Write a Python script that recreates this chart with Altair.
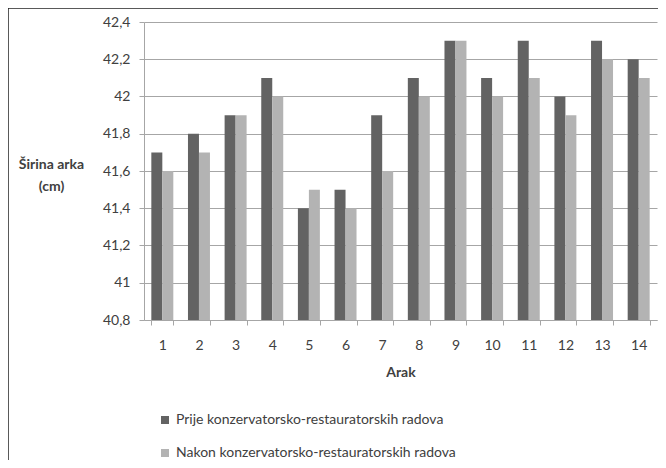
import altair as alt
import pandas as pd

categories = [str(i) for i in range(1, 15)]
prije = [41.7, 41.8, 41.9, 42.1, 41.4, 41.5, 41.9, 42.1, 42.3, 42.1, 42.3, 42.0, 42.3, 42.2]
nakon = [41.6, 41.7, 41.9, 42.0, 41.5, 41.4, 41.6, 42.0, 42.3, 42.0, 42.1, 41.9, 42.2, 42.1]
series = ["Prije konzervatorsko-restauratorskih radova",
          "Nakon konzervatorsko-restauratorskih radova"]
y_ticks = [40.8, 41.0, 41.2, 41.4, 41.6, 41.8, 42.0, 42.2, 42.4]

rows = []
for c, a, b in zip(categories, prije, nakon):
    rows.append({"Arak": c, "Serija": series[0], "v": a})
    rows.append({"Arak": c, "Serija": series[1], "v": b})
df = pd.DataFrame(rows)

FONT = "Lato"
GRID = "#a6a6a6"
TXT = "#404040"

bars = alt.Chart(df).mark_bar().encode(
    x=alt.X("Arak:N", sort=categories,
            scale=alt.Scale(paddingInner=0.4, paddingOuter=0.2),
            axis=alt.Axis(title="Arak", labelAngle=0, tickBand="extent",
                          tickSize=5, labelPadding=13, titlePadding=13,
                          domainColor=GRID, tickColor=GRID,
                          labelFontSize=14, titleFontSize=14)),
    xOffset=alt.XOffset("Serija:N", sort=series),
    y=alt.Y("v:Q", scale=alt.Scale(domain=[40.8, 42.4], zero=False, nice=False),
            axis=alt.Axis(values=y_ticks, title=["Širina arka", "(cm)"],
                          labelExpr="replace(toString(round(datum.value*10)/10), '.', ',')",
                          tickSize=5, labelPadding=9,
                          domainColor=GRID, tickColor=GRID, gridColor=GRID,
                          titleAngle=0, titleAlign="center", titleBaseline="middle",
                          titleX=-93, titleY=142, titleLineHeight=22,
                          labelFontSize=14, titleFontSize=14)),
    y2=alt.datum(40.8),
    color=alt.Color("Serija:N", sort=series,
                    scale=alt.Scale(domain=series, range=["#636363", "#b3b3b3"]),
                    legend=alt.Legend(title=None, orient="none", legendX=14, legendY=391,
                                      direction="vertical", symbolType="square",
                                      symbolSize=64, rowPadding=19, labelFontSize=14,
                                      labelOffset=4, symbolStrokeWidth=0, labelLimit=0)),
)

frame_df = pd.DataFrame({"k": [0]})
frame_top = alt.Chart(frame_df).mark_rule(color="#222222", strokeWidth=1.5).encode(
    x=alt.value(-136), x2=alt.value(520), y=alt.value(-14))
frame_left = alt.Chart(frame_df).mark_rule(color="#222222", strokeWidth=1.5).encode(
    x=alt.value(-136), y=alt.value(-14), y2=alt.value(440))

chart = alt.layer(bars, frame_top, frame_left).properties(
    width=513, height=298,
    autosize=alt.AutoSizeParams(type="none"),
    padding={"left": 136, "top": 14, "right": 1, "bottom": 140},
).configure_view(stroke=None).configure_axis(
    labelFont=FONT, titleFont=FONT, labelColor=TXT, titleColor=TXT,
    grid=False
).configure_axisY(grid=True).configure_legend(
    labelFont=FONT, labelColor=TXT
)

chart.save("out.html", embed_options={"renderer": "svg", "actions": False})
